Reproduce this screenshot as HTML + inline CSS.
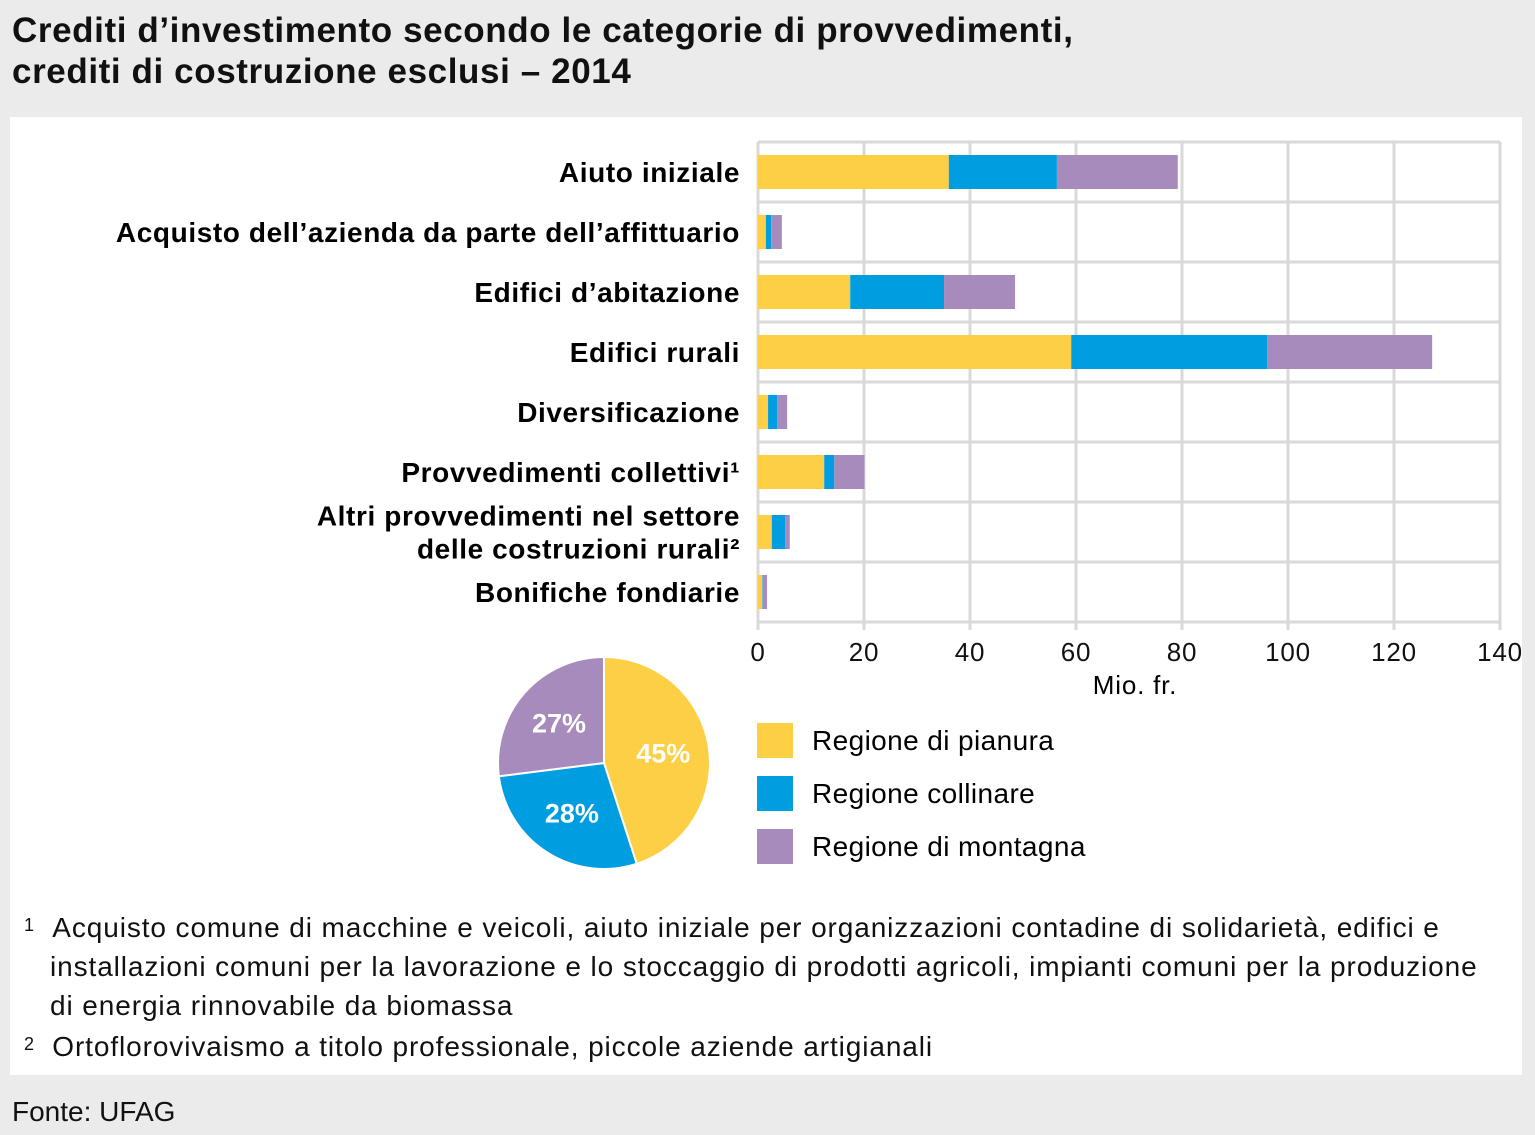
<!DOCTYPE html>
<html><head><meta charset="utf-8"><style>
body{margin:0;width:1535px;height:1135px;background:#ebebeb;font-family:"Liberation Sans",sans-serif;position:relative;overflow:hidden;color:#111}
.t{position:absolute;left:12px;top:10px;font-size:35px;letter-spacing:0.6px;font-weight:bold;line-height:41px}
.panel{position:absolute;left:10px;top:117px;width:1512px;height:958px;background:#fff}
.fn{position:absolute;font-size:28px;letter-spacing:0.9px;line-height:39px}
.src{position:absolute;left:12px;top:1096px;font-size:28px}
</style></head><body>
<div class="t">Crediti d’investimento secondo le categorie di provvedimenti,<br>crediti di costruzione esclusi – 2014</div>
<div class="panel"></div>
<svg id="c" width="1535" height="1135" style="position:absolute;left:0;top:0"></svg>
<div class="fn" style="left:24px;top:908px"><span style="font-size:18px;vertical-align:top;position:relative;top:-2px">1</span>&nbsp;&nbsp;Acquisto comune di macchine e veicoli, aiuto iniziale per organizzazioni contadine di solidarietà, edifici e<br>&nbsp;&nbsp;&nbsp;installazioni comuni per la lavorazione e lo stoccaggio di prodotti agricoli, impianti comuni per la produzione<br>&nbsp;&nbsp;&nbsp;di energia rinnovabile da biomassa</div>
<div class="fn" style="left:24px;top:1027px"><span style="font-size:18px;vertical-align:top;position:relative;top:-2px">2</span>&nbsp;&nbsp;Ortoflorovivaismo a titolo professionale, piccole aziende artigianali</div>
<div class="src">Fonte: UFAG</div>
<script>
const categories=["Aiuto iniziale","Acquisto dell’azienda da parte dell’affittuario","Edifici d’abitazione","Edifici rurali","Diversificazione","Provvedimenti collettivi¹","Altri provvedimenti nel settore|delle costruzioni rurali²","Bonifiche fondiarie"];
const pianura=[36.0,1.5,17.4,59.1,1.9,12.5,2.6,0.8];
const collinare=[20.4,1.0,17.7,37.0,1.7,1.9,2.5,0.1];
const montagna=[22.8,2.0,13.4,31.1,1.9,5.7,0.9,0.8];
const ticks=[0,20,40,60,80,100,120,140];
const seriesNames=["Regione di pianura","Regione collinare","Regione di montagna"];
const pieShares=[45,28,27];
const colors=["#fccf45","#009ee0","#a78bbd"];
const svg=document.getElementById('c');const NS="http://www.w3.org/2000/svg";
function el(t,a,p){const e=document.createElementNS(NS,t);for(const k in a)e.setAttribute(k,a[k]);(p||svg).appendChild(e);return e;}
const x0=758,x1=1500,topY=142,rowH=60;
const xs=v=>x0+(x1-x0)*v/140;
const ys=i=>topY+i*rowH+rowH/2;
ticks.forEach(t=>{const l=el('line',{x1:xs(t),x2:xs(t),y1:topY,y2:topY+8*rowH+8,stroke:'#d9d9d9','stroke-width':3});


const tx=el('text',{x:xs(t),y:661,'text-anchor':'middle','font-size':26,'letter-spacing':0.8,fill:'#111'});tx.textContent=t;

});
for(let i=0;i<=8;i++){const l=el('line',{x1:x0,x2:x1,y1:topY+i*rowH,y2:topY+i*rowH,stroke:'#d9d9d9','stroke-width':3});

}
const xt=el('text',{x:1135,y:694,'text-anchor':'middle','font-size':26,'letter-spacing':0.8});xt.textContent="Mio. fr.";


const series=[pianura,collinare,montagna];
categories.forEach((c,i)=>{let acc=0;series.forEach((s,k)=>{const r=el('rect',{x:xs(acc),y:ys(i)-17,width:xs(acc+s[i])-xs(acc),height:34,fill:colors[k]});

acc+=s[i];});
const parts=c.split('|');parts.forEach((p,j)=>{const t=el('text',{x:740,y:ys(i)+10+(parts.length>1?(j-0.5)*33:0),'text-anchor':'end','font-size':28,'letter-spacing':0.6,'font-weight':'bold'});t.textContent=p;

});});
const cx=604,cy=763,R=106;let a=0;const tot=pieShares.reduce((p,q)=>p+q,0);
pieShares.forEach((v,k)=>{const a2=a+v/tot*2*Math.PI;const p=(t)=>[cx+R*Math.sin(t),cy-R*Math.cos(t)];const[sx,sy]=p(a),[ex,ey]=p(a2);
const s=el('path',{d:`M${cx},${cy}L${sx},${sy}A${R},${R} 0 ${a2-a>Math.PI?1:0} 1 ${ex},${ey}Z`,fill:colors[k],stroke:'#fff','stroke-width':2});


const m=(a+a2)/2;const t=el('text',{x:cx+60*Math.sin(m),y:cy-60*Math.cos(m)+9,'text-anchor':'middle','font-size':27,'font-weight':'bold',fill:'#fff'});t.textContent=v+'%';

a=a2;});
seriesNames.forEach((n,k)=>{const r=el('rect',{x:757,y:723+k*53,width:36,height:35,fill:colors[k]});


const t=el('text',{x:812,y:750+k*53,'font-size':28,'letter-spacing':0.4});t.textContent=n;

});
</script>
</body></html>
